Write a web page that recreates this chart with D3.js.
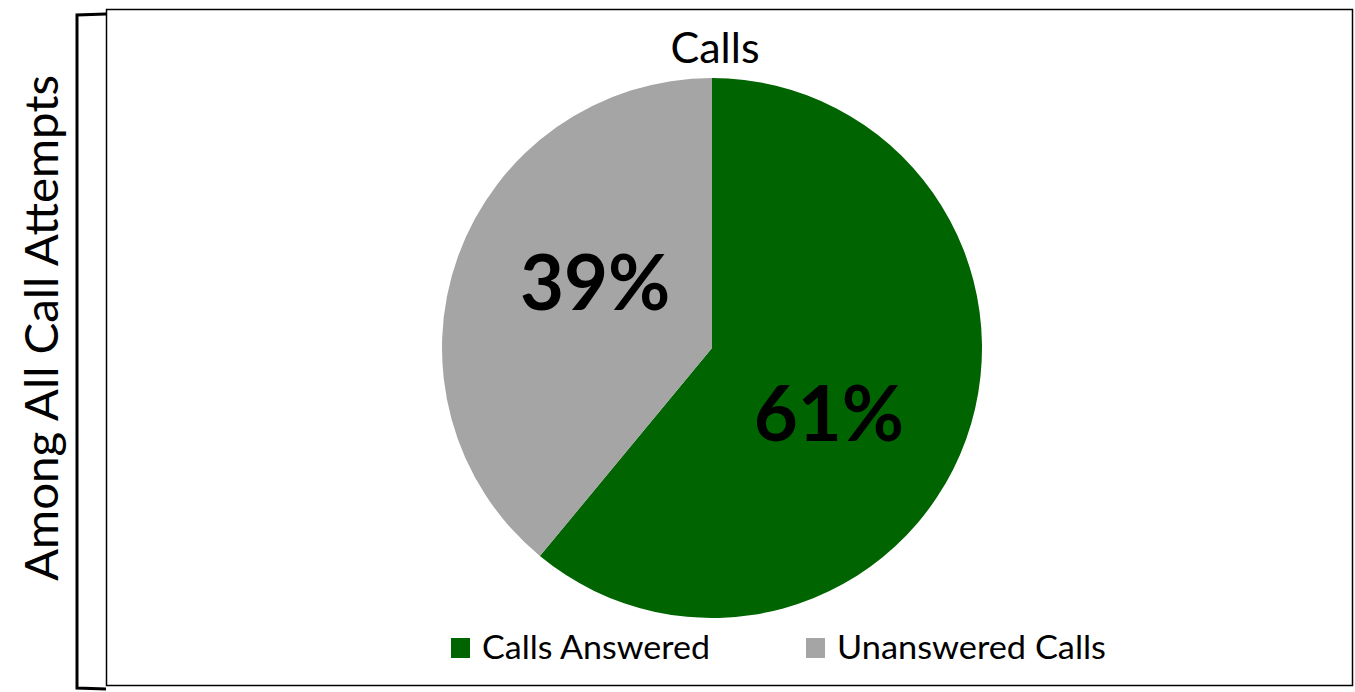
<!DOCTYPE html>
<html lang="en">
<head>
    <meta charset="UTF-8">
    <title>Calls</title>
    <script src="https://cdn.jsdelivr.net/npm/d3@7"></script>
    <style>
        body { margin: 0; background: #ffffff; }
        text { font-family: Lato, "Open Sans", sans-serif; fill: #000000; }
    </style>
</head>
<body>
<svg id="chart" width="1355" height="692"></svg>

<script>
    // data
    let categories = ["Calls Answered", "Unanswered Calls"]
    let values = [61, 39]
    let colors = ["#006400", "#a5a5a5"]
    let title = "Calls"
    let side_label = "Among All Call Attempts"

    let svg = d3.select("#chart")

    // bracket on the left
    svg.append("path")
        .attr("d", "M106,14 L77,15 L77,688 L106,689")
        .attr("fill", "none")
        .attr("stroke", "#000")
        .attr("stroke-width", 3)

    // chart border
    svg.append("rect")
        .attr("x", 106.5).attr("y", 9.5)
        .attr("width", 1246).attr("height", 676)
        .attr("fill", "#fff")
        .attr("stroke", "#000")
        .attr("stroke-width", 1.5)

    svg.append("text")
        .attr("transform", "translate(58,328) rotate(-90)")
        .attr("text-anchor", "middle")
        .attr("textLength", 506)
        .attr("lengthAdjust", "spacingAndGlyphs")
        .style("font-size", "47px")
        .text(side_label)

    svg.append("text")
        .attr("x", 715).attr("y", 63)
        .attr("text-anchor", "middle")
        .style("font-size", "43px")
        .text(title)

    // pie
    let cx = 712, cy = 348, r = 270
    let pie = d3.pie().sort(null).value(d => d)
    let arcs = pie(values)
    let arc = d3.arc().innerRadius(0).outerRadius(r)

    let g = svg.append("g").attr("transform", `translate(${cx},${cy})`)
    g.selectAll("path.slice")
        .data(arcs)
        .join("path")
        .attr("class", "slice")
        .attr("d", arc)
        .attr("fill", (d, i) => colors[i])

    // data labels, slightly rotated from the slice middle like excel best fit
    let shift = 9.5 * Math.PI / 180
    let labelR = 134
    g.selectAll("text.lab")
        .data(arcs)
        .join("text")
        .attr("class", "lab")
        .attr("x", d => labelR * Math.sin((d.startAngle + d.endAngle) / 2 + shift))
        .attr("y", d => -labelR * Math.cos((d.startAngle + d.endAngle) / 2 + shift))
        .attr("dy", "0.36em")
        .attr("text-anchor", "middle")
        .style("font-size", "76px")
        .style("font-weight", "bold")
        .text(d => d.value + "%")

    // legend
    let legend_x = [451, 806]
    let legend_w = [228, 269]
    let lg = svg.selectAll("g.legend")
        .data(categories)
        .join("g")
        .attr("class", "legend")
        .attr("transform", (d, i) => `translate(${legend_x[i]},638)`)
    lg.append("rect")
        .attr("width", 19).attr("height", 20)
        .attr("fill", (d, i) => colors[i])
    lg.append("text")
        .attr("x", 31).attr("y", 21)
        .attr("textLength", (d, i) => legend_w[i])
        .attr("lengthAdjust", "spacingAndGlyphs")
        .style("font-size", "32px")
        .text(d => d)
</script>
</body>
</html>
